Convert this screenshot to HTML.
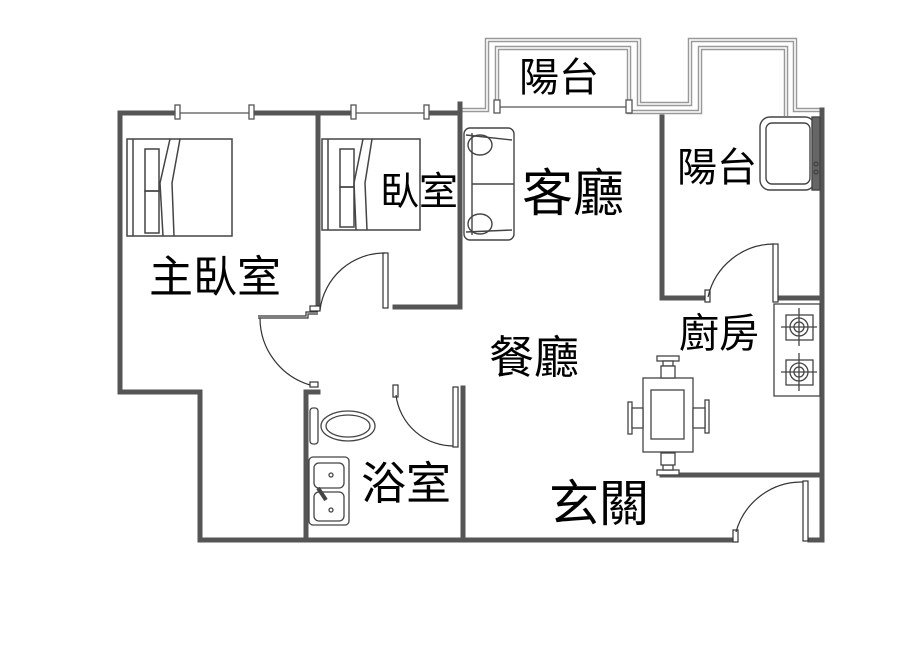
<!DOCTYPE html>
<html><head><meta charset="utf-8"><style>
html,body{margin:0;padding:0;background:#fff;}
svg{display:block}
text{font-family:"Liberation Sans","Noto Sans CJK TC",sans-serif;fill:#000}
</style></head><body>
<svg width="900" height="649" viewBox="0 0 900 649" xmlns="http://www.w3.org/2000/svg">
<!-- balconies outline double gray -->
<g fill="none" stroke="#999" stroke-width="4.5">
<polyline id="bo" points="460,110 487,110 487,40 639,40 639,104 690,104 690,40 795,40 795,110 822,110"/>
<polyline id="bi" points="497,108 497,48 629,48 629,112 700,112 700,48 786,48 786,116"/>
</g>
<g fill="none" stroke="#fff" stroke-width="1.6">
<polyline points="460,110 487,110 487,40 639,40 639,104 690,104 690,40 795,40 795,110 822,110"/>
<polyline points="497,108 497,48 629,48 629,112 700,112 700,48 786,48 786,116"/>
</g>
<g fill="none" stroke="#555" stroke-width="5" stroke-linecap="square">
<polyline points="120,115 120,392 200,392 200,540 735,540"/>
<line x1="810" y1="540" x2="822" y2="540"/>
<line x1="822" y1="110" x2="822" y2="540"/>
<line x1="120" y1="113" x2="177" y2="113"/>
<line x1="252" y1="113" x2="353" y2="113"/>
<line x1="427" y1="113" x2="460" y2="113"/>
<line x1="318" y1="113" x2="318" y2="305"/>
<line x1="460" y1="104" x2="460" y2="307"/>
<line x1="395" y1="307" x2="460" y2="307"/>
<polyline points="662,117 662,298 705,298"/>
<line x1="780" y1="298" x2="820" y2="298"/>
<line x1="662" y1="475" x2="822" y2="475"/>
<line x1="306" y1="392" x2="306" y2="540"/>
<line x1="306" y1="392" x2="318" y2="392"/>
<line x1="463" y1="388" x2="463" y2="540"/>
</g>
<g fill="#fff" stroke="#555" stroke-width="1.3">
<line x1="177" y1="113" x2="252" y2="113"/>
<line x1="353" y1="113" x2="427" y2="113"/>
<rect x="175" y="105" width="5" height="14"/><rect x="249" y="105" width="5" height="14"/>
<rect x="351" y="105" width="5" height="14"/><rect x="424" y="105" width="5" height="14"/>
<line x1="497" y1="107" x2="630" y2="107"/>
<rect x="494" y="100" width="6" height="13"/><rect x="626" y="100" width="6" height="13"/>
</g>
<!-- beds -->
<g fill="none" stroke="#444" stroke-width="1.5">
<rect x="127" y="139" width="105" height="97"/>
<line x1="133" y1="139" x2="133" y2="236"/>
<rect x="145" y="149" width="14" height="42"/><rect x="145" y="191" width="14" height="42"/>
<path d="M170,139 L160,183 L163,236 M180,139 L172,183 L174,236"/>
<rect x="322" y="139" width="98" height="91"/>
<line x1="328" y1="139" x2="328" y2="230"/>
<rect x="340" y="149" width="14" height="38"/><rect x="340" y="187" width="14" height="40"/>
<path d="M363,139 L354,183 L356,230 M372,139 L365,183 L367,230"/>
</g>
<!-- sofa -->
<g fill="none" stroke="#444" stroke-width="1.4">
<rect x="464" y="128" width="50" height="112" rx="6"/>
<line x1="472" y1="133" x2="472" y2="235"/>
<line x1="472" y1="184" x2="514" y2="184"/>
<ellipse cx="480" cy="145" rx="12" ry="10"/>
<ellipse cx="480" cy="224" rx="12" ry="10"/>
<line x1="466" y1="135" x2="512" y2="140"/>
<line x1="466" y1="232" x2="512" y2="230"/>
</g>
<!-- washing machine -->
<g fill="none" stroke="#444" stroke-width="1.4">
<rect x="760" y="117" width="55" height="73" rx="10"/>
<rect x="766" y="123" width="44" height="61" rx="6"/>
<rect x="812" y="117" width="8" height="73" fill="#666"/>
<circle cx="816" cy="164" r="2"/><circle cx="816" cy="172" r="2"/>
</g>
<!-- doors -->
<g fill="none" stroke="#333" stroke-width="1.2">
<rect x="383" y="253" width="5" height="55" fill="#fff"/>
<path d="M385,253 A65,65 0 0,0 320,310"/>
<rect x="310" y="306" width="10" height="5" fill="#fff"/>
<polyline points="258,316 306,316 306,312 318,312"/>
<polyline points="258,318 308,318 308,314 318,314"/>
<path d="M260,318 A70,70 0 0,0 310,385"/>
<rect x="310" y="382" width="8" height="5" fill="#fff"/>
<rect x="393" y="385" width="5" height="12" fill="#fff"/>
<path d="M396,395 A58,58 0 0,0 455,446"/>
<rect x="453" y="387" width="5" height="60" fill="#fff"/>
<rect x="705" y="290" width="5" height="12" fill="#fff"/>
<path d="M708,297 A68,68 0 0,1 774,244"/>
<rect x="773" y="244" width="5" height="58" fill="#fff"/>
<rect x="733" y="530" width="5" height="12" fill="#fff"/>
<path d="M736,532 A68,68 0 0,1 803,482"/>
<rect x="803" y="481" width="5" height="60" fill="#fff"/>
</g>
<!-- toilet & sink -->
<g fill="none" stroke="#444" stroke-width="1.3">
<rect x="310" y="408" width="8" height="36" rx="3"/>
<ellipse cx="348" cy="426" rx="27" ry="15"/>
<ellipse cx="348" cy="426" rx="22" ry="11"/>
<rect x="309" y="457" width="40" height="68" rx="4"/>
<rect x="314" y="463" width="30" height="25" rx="5"/>
<rect x="314" y="492" width="30" height="29" rx="5"/>
<circle cx="331" cy="475" r="2"/><circle cx="331" cy="510" r="2"/>
<path d="M318,488 L326,500" stroke-width="4"/>
</g>
<!-- stove -->
<g fill="none" stroke="#444" stroke-width="1.3">
<rect x="774" y="304" width="46" height="92"/>
<rect x="786" y="315" width="27" height="25"/><circle cx="799" cy="327" r="9"/><circle cx="799" cy="327" r="5"/>
<line x1="781" y1="327" x2="817" y2="327"/><line x1="799" y1="308" x2="799" y2="346"/>
<rect x="786" y="360" width="27" height="25"/><circle cx="799" cy="372" r="9"/><circle cx="799" cy="372" r="5"/>
<line x1="781" y1="372" x2="817" y2="372"/><line x1="799" y1="353" x2="799" y2="391"/>
</g>
<!-- dining table -->
<g fill="#fff" stroke="#444" stroke-width="1.3">
<rect x="643" y="378" width="50" height="74"/>
<rect x="651" y="390" width="33" height="49"/>
<rect x="657" y="356" width="22" height="5"/><rect x="663" y="361" width="10" height="5"/><rect x="661" y="366" width="14" height="12"/>
<rect x="657" y="470" width="22" height="5"/><rect x="663" y="465" width="10" height="5"/><rect x="661" y="453" width="14" height="12"/>
<rect x="628" y="402" width="4" height="32"/><rect x="632" y="408" width="11" height="20"/>
<rect x="705" y="400" width="4" height="33"/><rect x="693" y="408" width="12" height="20"/>
</g>
<!-- labels -->
<text x="149" y="292" font-size="44">主臥室</text>
<text x="380" y="205" font-size="39">臥室</text>
<text x="522" y="211" font-size="51">客廳</text>
<text x="519" y="91" font-size="40">陽台</text>
<text x="677" y="181" font-size="40">陽台</text>
<text x="489" y="373" font-size="45">餐廳</text>
<text x="679" y="347" font-size="40">廚房</text>
<text x="361" y="499" font-size="45">浴室</text>
<text x="549" y="521" font-size="50">玄關</text>
</svg>
</body></html>
